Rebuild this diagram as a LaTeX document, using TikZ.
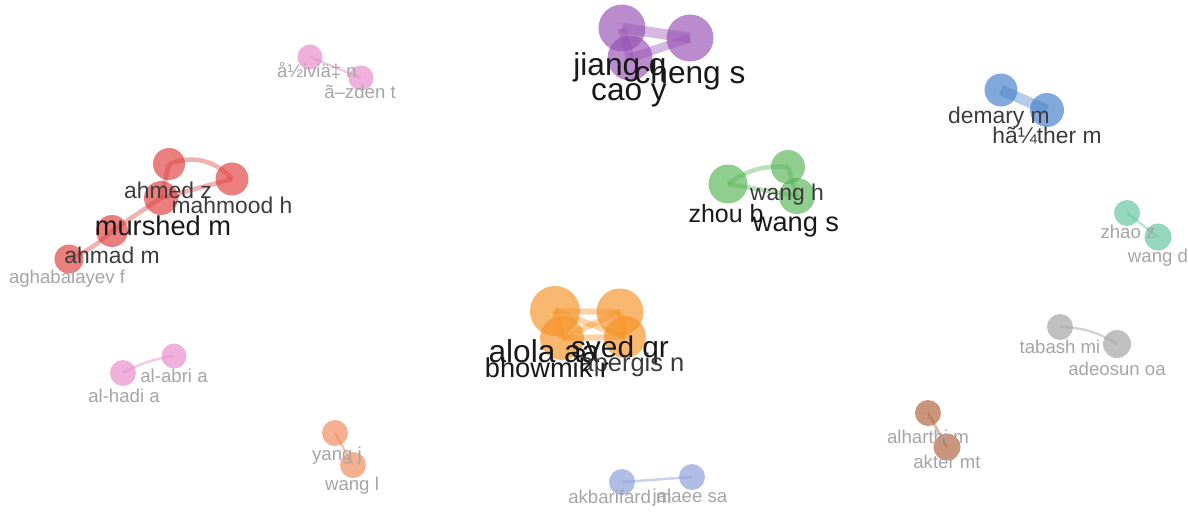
\documentclass[tikz,border=0pt]{standalone}
\usepackage{fontspec}
\setmainfont{Liberation Sans}
\usepackage{tikz}

\definecolor{vpurple}{RGB}{150,80,180}
\definecolor{vred}{RGB}{222,60,60}
\definecolor{vgreen}{RGB}{85,180,85}
\definecolor{vorange}{RGB}{245,145,35}
\definecolor{vblue}{RGB}{65,125,200}
\definecolor{vteal}{RGB}{95,195,160}
\definecolor{vgray}{RGB}{160,160,160}
\definecolor{vpink}{RGB}{230,135,200}
\definecolor{vsalmon}{RGB}{240,135,90}
\definecolor{vperi}{RGB}{135,155,215}
\definecolor{vbrown}{RGB}{175,95,55}
\definecolor{txtdark}{RGB}{25,25,25}
\definecolor{txtmid}{RGB}{60,60,60}
\definecolor{txtlight}{RGB}{165,165,165}

\begin{document}
\begin{tikzpicture}[x=0.02cm,y=-0.02cm,
    bub/.style={circle,inner sep=0pt,fill=#1,fill opacity=0.66},
    lnk/.style={draw=#1,opacity=0.4,line width=2.6pt},
    thinlnk/.style={draw=#1,opacity=0.45,line width=1.4pt},
    lab/.style={anchor=base,inner sep=0pt,text=#1},
    fxl/.style={font=\fontsize{18}{18}\selectfont},
    fl/.style={font=\fontsize{15.5}{16}\selectfont},
    fm/.style={font=\fontsize{13}{13}\selectfont},
    fs/.style={font=\fontsize{10.6}{11}\selectfont}]
    \useasboundingbox (0,0) rectangle (1188,518);

    % purple
    \node[bub=vpurple,minimum size=0.94cm] (jiang) at (622,28) {};
    \node[bub=vpurple,minimum size=0.94cm] (cheng) at (690,38) {};
    \node[bub=vpurple,minimum size=0.9cm] (cao) at (630,58) {};
    \draw[lnk=vpurple,line width=6pt] (jiang.center) -- (cheng.center);
    \draw[lnk=vpurple,line width=5pt] (jiang.center) -- (cao.center);
    \draw[lnk=vpurple,line width=5pt] (cheng.center) -- (cao.center);

    % pink, top
    \node[bub=vpink,minimum size=0.5cm] (zivic) at (310,57) {};
    \node[bub=vpink,minimum size=0.5cm] (ozden) at (361,78) {};
    \draw[thinlnk=vpink] (zivic.center) -- (ozden.center);

    % red
    \node[bub=vred,minimum size=0.64cm] (ahmedz) at (169,164) {};
    \node[bub=vred,minimum size=0.66cm] (mahmood) at (232,179) {};
    \node[bub=vred,minimum size=0.68cm] (murshed) at (161,198) {};
    \node[bub=vred,minimum size=0.64cm] (ahmadm) at (112,231) {};
    \node[bub=vred,minimum size=0.58cm] (aghab) at (69,259) {};
    \draw[lnk=vred] (ahmedz.center) to[bend left=35] (mahmood.center);
    \draw[lnk=vred] (ahmedz.center) -- (murshed.center);
    \draw[lnk=vred] (murshed.center) -- (mahmood.center);
    \draw[lnk=vred] (murshed.center) -- (ahmadm.center);
    \draw[lnk=vred] (ahmadm.center) to[bend left=10] (aghab.center);

    % green
    \node[bub=vgreen,minimum size=0.78cm] (zhou) at (728,184) {};
    \node[bub=vgreen,minimum size=0.68cm] (wangh) at (788,167) {};
    \node[bub=vgreen,minimum size=0.72cm] (wangs) at (797,196) {};
    \draw[lnk=vgreen] (zhou.center) to[bend left=20] (wangh.center);
    \draw[lnk=vgreen] (zhou.center) -- (wangs.center);
    \draw[lnk=vgreen] (wangh.center) -- (wangs.center);

    % orange
    \node[bub=vorange,minimum size=1.0cm] (alola) at (555,311) {};
    \node[bub=vorange,minimum size=0.94cm] (syed) at (620,312) {};
    \node[bub=vorange,minimum size=0.88cm] (bhowmik) at (562,338) {};
    \node[bub=vorange,minimum size=0.84cm] (apergis) at (625,337) {};
    \draw[lnk=vorange,line width=3.5pt] (alola.center) -- (syed.center);
    \draw[lnk=vorange,line width=3.5pt] (alola.center) -- (bhowmik.center);
    \draw[lnk=vorange,line width=3.5pt] (alola.center) -- (apergis.center);
    \draw[lnk=vorange,line width=3.5pt] (syed.center) -- (bhowmik.center);
    \draw[lnk=vorange,line width=3.5pt] (syed.center) -- (apergis.center);
    \draw[lnk=vorange,line width=3.5pt] (bhowmik.center) -- (apergis.center);

    % blue
    \node[bub=vblue,minimum size=0.66cm] (demary) at (1001,90) {};
    \node[bub=vblue,minimum size=0.68cm] (huther) at (1047,110) {};
    \draw[lnk=vblue,line width=6pt] (demary.center) -- (huther.center);

    % teal
    \node[bub=vteal,minimum size=0.52cm] (zhao) at (1127,213) {};
    \node[bub=vteal,minimum size=0.54cm] (wangd) at (1158,237) {};
    \draw[thinlnk=vteal] (zhao.center) -- (wangd.center);

    % gray
    \node[bub=vgray,minimum size=0.52cm] (tabash) at (1060,327) {};
    \node[bub=vgray,minimum size=0.56cm] (adeosun) at (1117,344) {};
    \draw[thinlnk=vgray] (tabash.center) to[bend left=15] (adeosun.center);

    % pink, left
    \node[bub=vpink,minimum size=0.5cm] (alabri) at (174,356) {};
    \node[bub=vpink,minimum size=0.52cm] (alhadi) at (123,373) {};
    \draw[thinlnk=vpink] (alhadi.center) to[bend left=10] (alabri.center);

    % salmon
    \node[bub=vsalmon,minimum size=0.52cm] (yangj) at (335,433) {};
    \node[bub=vsalmon,minimum size=0.52cm] (wangl) at (353,465) {};
    \draw[thinlnk=vsalmon] (yangj.center) -- (wangl.center);

    % periwinkle
    \node[bub=vperi,minimum size=0.52cm] (akbari) at (622,482) {};
    \node[bub=vperi,minimum size=0.52cm] (jalaee) at (692,477) {};
    \draw[thinlnk=vperi] (akbari.center) -- (jalaee.center);

    % brown
    \node[bub=vbrown,minimum size=0.52cm] (alharthi) at (928,413) {};
    \node[bub=vbrown,minimum size=0.54cm] (akter) at (947,447) {};
    \draw[thinlnk=vbrown] (alharthi.center) -- (akter.center);

    % labels
    \node[lab=txtdark,fxl] (jiangL) at (620,75) {jiang q};
    \node[lab=txtdark,fxl] (chengL) at (690,83) {cheng s};
    \node[lab=txtdark,fxl] (caoL) at (629,100) {cao y};
    \node[lab=txtlight,fs] (zivicL) at (317,77) {å½iviä‡ n};
    \node[lab=txtlight,fs] (ozdenL) at (360,98) {ã–zden t};
    \node[lab=txtmid,fm] (ahmedzL) at (168,198) {ahmed z};
    \node[lab=txtmid,fm] (mahmoodL) at (232,213) {mahmood h};
    \node[lab=txtdark,fl] (murshedL) at (163,235) {murshed m};
    \node[lab=txtmid,fm] (ahmadmL) at (112,263) {ahmad m};
    \node[lab=txtlight,fs] (aghabL) at (67,283) {aghabalayev f};
    \node[lab=txtmid,fm] (wanghL) at (787,200) {wang h};
    \node[lab=txtdark,font=\fontsize{14.2}{15}\selectfont] (zhouL) at (726,222) {zhou b};
    \node[lab=txtdark,fl] (wangsL) at (796,231) {wang s};
    \node[lab=txtdark,fxl] (alolaL) at (544,362) {alola aa};
    \node[lab=txtdark,font=\fontsize{17}{17}\selectfont] (syedL) at (620,357) {syed qr};
    \node[lab=txtmid,font=\fontsize{14.5}{15}\selectfont] (apergisL) at (632,371) {apergis n};
    \node[lab=txtdark,fl] (bhowmikL) at (547,377) {bhowmik r};
    \node[lab=txtmid,fm] (demaryL) at (999,123) {demary m};
    \node[lab=txtmid,fm] (hutherL) at (1047,143) {hã¼ther m};
    \node[lab=txtlight,fs] (zhaoL) at (1128,238) {zhao z};
    \node[lab=txtlight,fs] (wangdL) at (1158,262) {wang d};
    \node[lab=txtlight,fs] (tabashL) at (1060,353) {tabash mi};
    \node[lab=txtlight,fs] (adeosunL) at (1117,375) {adeosun oa};
    \node[lab=txtlight,fs] (alabriL) at (174,382) {al-abri a};
    \node[lab=txtlight,fs] (alhadiL) at (124,402) {al-hadi a};
    \node[lab=txtlight,fs] (yangjL) at (337,460) {yang j};
    \node[lab=txtlight,fs] (wanglL) at (352,490) {wang l};
    \node[lab=txtlight,fs] (akbariL) at (620,503) {akbarifard m};
    \node[lab=txtlight,fs] (jalaeeL) at (690,502) {jalaee sa};
    \node[lab=txtlight,fs] (alharthiL) at (928,443) {alharthi m};
    \node[lab=txtlight,fs] (akterL) at (947,468) {akter mt};
\end{tikzpicture}
\end{document}
